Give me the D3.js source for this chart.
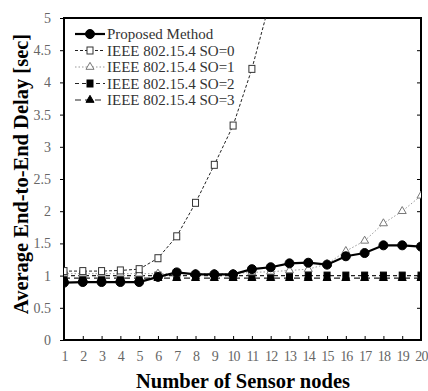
<!DOCTYPE html>
<html>
<head>
<meta charset="utf-8">
<script src="https://cdn.jsdelivr.net/npm/d3@7"></script>
<style>
  body { margin: 0; background: #fff; }
  svg text { font-family: "Liberation Serif", "DejaVu Serif", serif; }
</style>
</head>
<body>
<div id="chart"></div>
<script>
const nodes = d3.range(1, 21);
const proposed = [0.89, 0.9, 0.9, 0.9, 0.9, 0.98, 1.05, 1.02, 1.02, 1.02, 1.1, 1.13, 1.19, 1.2, 1.17, 1.3, 1.35, 1.47, 1.47, 1.45];
const so0 = [1.07, 1.07, 1.07, 1.08, 1.1, 1.27, 1.61, 2.13, 2.72, 3.33, 4.21, 5.3, 6.5, 7.8, 9.2, 10.7, 12.3, 14, 15.8, 17.7];
const so1 = [1.03, 1.03, 1.03, 1.03, 1.03, 1.03, 1.03, 1.03, 1.03, 1.03, 1.05, 1.06, 1.08, 1.1, 1.18, 1.38, 1.54, 1.81, 2.0, 2.24];
const so2 = [1.0, 1.0, 1.0, 1.0, 1.0, 1.0, 1.0, 1.0, 1.0, 1.0, 1.0, 1.0, 1.0, 1.0, 1.0, 1.0, 1.0, 1.0, 1.0, 1.0];
const so3 = [0.96, 0.96, 0.96, 0.96, 0.96, 0.96, 0.96, 0.96, 0.96, 0.96, 0.96, 0.96, 0.96, 0.96, 0.96, 0.96, 0.96, 0.96, 0.96, 0.96];
const yTicks = [0, 0.5, 1, 1.5, 2, 2.5, 3, 3.5, 4, 4.5, 5];

const series = [
  { name: 'Proposed Method', values: proposed, stroke: '#000', width: 2.2, dash: null, marker: 'circle', fill: '#000', mstroke: '#000' },
  { name: 'IEEE 802.15.4 SO=0', values: so0, stroke: '#222', width: 1, dash: '3,2', marker: 'square', fill: '#fff', mstroke: '#333' },
  { name: 'IEEE 802.15.4 SO=1', values: so1, stroke: '#999', width: 1, dash: '1.5,2', marker: 'triangle', fill: '#fff', mstroke: '#777' },
  { name: 'IEEE 802.15.4 SO=2', values: so2, stroke: '#222', width: 1.2, dash: '4,3', marker: 'square', fill: '#000', mstroke: '#000' },
  { name: 'IEEE 802.15.4 SO=3', values: so3, stroke: '#222', width: 1.2, dash: '6,4', marker: 'triangle', fill: '#000', mstroke: '#000' }
];

const width = 428, height = 391;
const margin = { top: 18, right: 7, bottom: 51, left: 64 };
const serif = '"Liberation Serif", "DejaVu Serif", serif';

const svg = d3.select('#chart').append('svg')
  .attr('width', width)
  .attr('height', height);

const x = d3.scaleLinear().domain([1, 20]).range([margin.left, width - margin.right]);
const y = d3.scaleLinear().domain([0, 5]).range([height - margin.bottom, margin.top]);

svg.append('clipPath').attr('id', 'clip')
  .append('rect')
  .attr('x', margin.left).attr('y', margin.top)
  .attr('width', x.range()[1] - margin.left)
  .attr('height', y.range()[0] - margin.top);

// left axis, ticks outward
svg.append('g')
  .attr('transform', `translate(${margin.left},0)`)
  .call(d3.axisLeft(y).tickValues(yTicks).tickSize(4).tickPadding(9).tickFormat(d3.format('')))
  .call(g => g.select('.domain').remove())
  .call(g => g.attr('font-family', serif))
  .call(g => g.selectAll('text').attr('font-size', 14).attr('fill', '#666'));

// right axis ticks inward
svg.append('g')
  .attr('transform', `translate(${x.range()[1]},0)`)
  .call(d3.axisLeft(y).tickValues(yTicks).tickSize(4).tickFormat(''))
  .call(g => g.select('.domain').remove());

// bottom axis, ticks inward
svg.append('g')
  .attr('transform', `translate(0,${y(0)})`)
  .call(d3.axisTop(x).tickValues(nodes).tickSize(4).tickFormat(''))
  .call(g => g.select('.domain').remove());

svg.append('g')
  .attr('transform', `translate(0,${y(0)})`)
  .call(d3.axisBottom(x).tickValues(nodes).tickSize(0).tickPadding(11))
  .call(g => g.select('.domain').remove())
  .call(g => g.attr('font-family', serif))
  .call(g => g.selectAll('text').attr('font-size', 14).attr('fill', '#666').attr('letter-spacing', -0.8));

// frame
svg.append('rect')
  .attr('x', margin.left).attr('y', margin.top)
  .attr('width', x.range()[1] - margin.left)
  .attr('height', y(0) - margin.top)
  .attr('fill', 'none').attr('stroke', '#000').attr('stroke-width', 2);

const line = d3.line().x((d, i) => x(nodes[i])).y(d => y(d));

function marker(sel, s) {
  if (s.marker === 'circle') {
    sel.append('circle').attr('r', 4.5);
  } else if (s.marker === 'square') {
    sel.append('rect').attr('x', -3).attr('y', -3.5).attr('width', 6).attr('height', 7);
  } else {
    sel.append('path').attr('d', d3.symbol(d3.symbolTriangle, 28)());
  }
  sel.selectAll('*')
    .attr('fill', s.fill)
    .attr('stroke', s.mstroke)
    .attr('stroke-width', 1);
}

const plot = svg.append('g').attr('clip-path', 'url(#clip)');

series.slice().reverse().forEach(s => {
  plot.append('path')
    .datum(s.values)
    .attr('d', line)
    .attr('fill', 'none')
    .attr('stroke', s.stroke)
    .attr('stroke-width', s.width)
    .attr('stroke-dasharray', s.dash);
  plot.selectAll(null)
    .data(s.values.map((v, i) => [nodes[i], v]).filter(d => d[1] <= 5.2))
    .enter().append('g')
    .attr('transform', d => `translate(${x(d[0])},${y(d[1])})`)
    .each(function () { marker(d3.select(this), s); });
});

// legend
const legend = svg.append('g').attr('transform', `translate(${margin.left + 11},34)`);
series.forEach((s, i) => {
  const row = legend.append('g').attr('transform', `translate(0,${i * 16.5})`);
  row.append('line')
    .attr('x1', 0).attr('x2', 30)
    .attr('stroke', s.stroke)
    .attr('stroke-width', s.width)
    .attr('stroke-dasharray', s.dash);
  const m = row.append('g').attr('transform', 'translate(15,0)');
  marker(m, s);
  row.append('text')
    .attr('x', 32).attr('y', 5)
    .attr('font-family', serif)
    .attr('font-size', 15)
    .attr('fill', '#333')
    .text(s.name);
});

// axis titles
svg.append('text')
  .attr('x', 243)
  .attr('y', 388)
  .attr('text-anchor', 'middle')
  .attr('font-family', serif)
  .attr('font-size', 20.5)
  .attr('font-weight', 'bold')
  .text('Number of Sensor nodes');

svg.append('text')
  .attr('transform', 'translate(28,174) rotate(-90)')
  .attr('text-anchor', 'middle')
  .attr('font-family', serif)
  .attr('font-size', 20.5)
  .attr('font-weight', 'bold')
  .text('Average End-to-End Delay [sec]');
</script>
</body>
</html>
